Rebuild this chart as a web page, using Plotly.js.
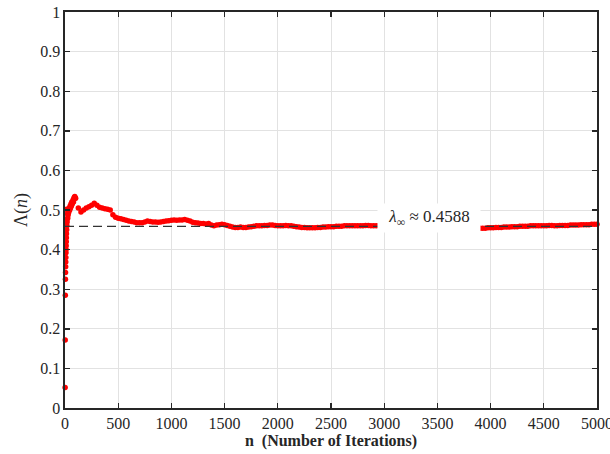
<!DOCTYPE html>
<html>
<head>
<meta charset="utf-8">
<script src="https://cdn.plot.ly/plotly-3.0.1.min.js"></script>
</head>
<body style="margin:0;background:#fff">
<div id="chart" style="width:610px;height:454px"></div>
<script>
// Early iterations (n, Λ(n))
var nEarly = [1,2,3,4,5,6,7,8,9,10,11,12,13,14,15,16,18,20,22,24,26,28,30,33,36,40,44,48,52,56,60,64,68,72,76,80,84,88,92,96];
var lamEarly = [0.052,0.172,0.285,0.325,0.342,0.357,0.369,0.380,0.392,0.400,0.410,0.420,0.430,0.440,0.502,0.450,0.460,0.470,0.478,0.490,0.480,0.495,0.488,0.500,0.495,0.505,0.500,0.510,0.505,0.515,0.510,0.520,0.515,0.520,0.525,0.520,0.530,0.532,0.534,0.530];

// n = 100 .. 2950, every 25 iterations
var mainStart = 100, mainStep = 25;
var lamMain = [
 0.530,0.505,0.495,0.500,0.505,0.508,0.512,0.517,0.512,0.507,
 0.505,0.503,0.502,0.500,0.488,0.482,0.479,0.478,0.476,0.474,
 0.472,0.471,0.470,0.468,0.468,0.468,0.470,0.472,0.471,0.470,
 0.470,0.469,0.470,0.471,0.472,0.473,0.474,0.475,0.474,0.475,
 0.475,0.476,0.474,0.472,0.469,0.468,0.467,0.466,0.466,0.465,
 0.466,0.462,0.460,0.462,0.463,0.464,0.463,0.461,0.459,0.457,
 0.456,0.456,0.457,0.456,0.456,0.457,0.458,0.459,0.460,0.460,
 0.460,0.461,0.461,0.462,0.462,0.461,0.460,0.460,0.460,0.461,
 0.460,0.460,0.459,0.458,0.457,0.456,0.456,0.455,0.455,0.455,
 0.455,0.456,0.456,0.457,0.457,0.458,0.458,0.458,0.459,0.459,
 0.459,0.460,0.460,0.460,0.460,0.460,0.460,0.460,0.460,0.461,
 0.461,0.460,0.460,0.460,0.460
];

// n = 3900 .. 5000, every 25 iterations
var tailStart = 3900, tailStep = 25;
var lamTail = [
 0.454,0.454,0.454,0.455,0.455,0.455,0.456,0.456,0.456,0.457,
 0.457,0.457,0.458,0.458,0.458,0.459,0.459,0.459,0.459,0.460,
 0.460,0.460,0.460,0.460,0.460,0.460,0.461,0.461,0.460,0.460,
 0.461,0.461,0.461,0.461,0.462,0.462,0.462,0.462,0.463,0.463,
 0.463,0.463,0.464,0.464,0.464
];

var lamInf = 0.4588;
var limitX = [0, 5000];
var limitY = [lamInf, lamInf];
var xTickVals = [0,500,1000,1500,2000,2500,3000,3500,4000,4500,5000];
var yTickVals = [0,0.1,0.2,0.3,0.4,0.5,0.6,0.7,0.8,0.9,1];
var yTickText = ['0','0.1','0.2','0.3','0.4','0.5','0.6','0.7','0.8','0.9','1'];

var ink = '#262626';
var fam = 'Times New Roman';
var mk = {color: '#ff0000', size: 5.5, line:{width:0}};

var traces = [
  {type:'scatter', mode:'markers', x:nEarly, y:lamEarly, marker:mk, cliponaxis:false, showlegend:false, hoverinfo:'none'},
  {type:'scatter', mode:'markers', x0:mainStart, dx:mainStep, y:lamMain, marker:mk, cliponaxis:false, showlegend:false, hoverinfo:'none'},
  {type:'scatter', mode:'markers', x0:tailStart, dx:tailStep, y:lamTail, marker:mk, cliponaxis:false, showlegend:false, hoverinfo:'none'},
  {type:'scatter', mode:'lines', x:limitX, y:limitY, line:{color:'#333333', width:1.2, dash:'9px,5px'}, showlegend:false, hoverinfo:'none'}
];

var axisBase = {
  showline:true, mirror:'ticks', linecolor:ink, linewidth:1.6,
  ticks:'inside', ticklen:5, tickwidth:1.4, tickcolor:ink,
  showgrid:true, gridcolor:'#e2e2e2', gridwidth:1, zeroline:false,
  ticklabeloverflow:'allow',
  tickfont:{family:fam, size:16, color:ink}
};

var layout = {
  width:610, height:454,
  margin:{l:65, r:13, t:12, b:46},
  paper_bgcolor:'#ffffff', plot_bgcolor:'#ffffff',
  font:{family:fam, color:ink},
  xaxis: Object.assign({}, axisBase, {
    range:[0,5000.001], tickmode:'array', tickvals:xTickVals, ticktext:xTickVals.map(String),
    title:{text:'<b>n\u00a0\u00a0(Number of Iterations)</b>', font:{family:fam, size:16, color:ink}, standoff:1}
  }),
  yaxis: Object.assign({}, axisBase, {
    range:[0,1.0001], tickmode:'array', tickvals:yTickVals, ticktext:yTickText,
    title:{text:'\u039b(<i>n</i>)', font:{family:fam, size:18, color:ink}, standoff:8}
  }),
  annotations:[{
    xref:'x', yref:'y', x:3421, y:0.48, showarrow:false,
    text:'<i>\u03bb</i><sub>\u221e</sub> \u2248 0.4588',
    font:{family:fam, size:17, color:ink},
    bgcolor:'#ffffff', width:102, height:28, borderpad:0
  }]
};

Plotly.newPlot('chart', traces, layout, {displayModeBar:false, staticPlot:true});
</script>
</body>
</html>
